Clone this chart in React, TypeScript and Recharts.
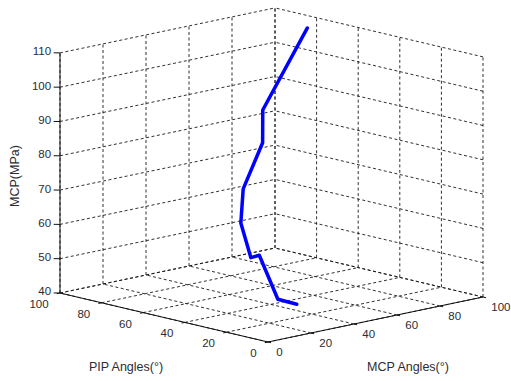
import React from "react";
import { ScatterChart, Scatter, XAxis, YAxis } from "recharts";

// measured series: pressure vs joint angles
const pressure = [46, 47, 58, 57, 65, 74, 86, 95, 110];
const mcpAngle = [25, 22, 24, 23, 28, 32, 42, 44, 87];
const pipAngle = [12, 18, 29, 32, 42, 45, 46, 48, 71];

const angleTicks = [0, 20, 40, 60, 80, 100];
const pressureTicks = [40, 50, 60, 70, 80, 90, 100, 110];

const W = 511;
const H = 381;

// simple oblique projection of the 3D box (MATLAB-like view)
const project = (m: number, p: number, z: number) => ({
  x: 268 + 2.15 * m - 2.08 * p,
  y: 342 - 0.45 * m - 0.49 * p - 3.43 * (z - 40),
});

type Seg = { from: number[]; to: number[] };

const gridSegs: Seg[] = [];
angleTicks.forEach((m) => {
  gridSegs.push({ from: [m, 100, 40], to: [m, 100, 110] }); // back-left wall
  gridSegs.push({ from: [m, 0, 40], to: [m, 100, 40] }); // floor
});
angleTicks.forEach((p) => {
  gridSegs.push({ from: [100, p, 40], to: [100, p, 110] }); // back-right wall
  gridSegs.push({ from: [0, p, 40], to: [100, p, 40] }); // floor
});
pressureTicks.forEach((z) => {
  gridSegs.push({ from: [0, 100, z], to: [100, 100, z] });
  gridSegs.push({ from: [100, 0, z], to: [100, 100, z] });
});

const axisSegs: Seg[] = [
  { from: [0, 100, 40], to: [0, 100, 110] },
  { from: [0, 0, 40], to: [0, 100, 40] },
  { from: [0, 0, 40], to: [100, 0, 40] },
];
pressureTicks.forEach((z) =>
  axisSegs.push({ from: [0, 100, z], to: [-1.5, 101.5, z] })
);
angleTicks.forEach((v) => {
  axisSegs.push({ from: [0, v, 40], to: [-1.5, v, 40] });
  axisSegs.push({ from: [v, 0, 40], to: [v, -1.5, 40] });
});

const segData = (s: Seg) => [
  project(s.from[0], s.from[1], s.from[2]),
  project(s.to[0], s.to[1], s.to[2]),
];

const curveData = pressure.map((z, i) => project(mcpAngle[i], pipAngle[i], z));

const labelData = [
  ...pressureTicks.map((z) => ({
    ...project(-2, 102.2, z + 0.4),
    text: String(z),
    anchor: "end",
  })),
  ...angleTicks.map((p) => ({
    ...project(-5.3, p, 37.5),
    text: String(p),
    anchor: "end",
  })),
  ...angleTicks.map((m) => ({
    ...project(m, -4, 37.8),
    text: String(m),
    anchor: "start",
  })),
];

const titleData = [
  { x: 126, y: 367, text: "PIP Angles(°)", rot: 0 },
  { x: 408, y: 367, text: "MCP Angles(°)", rot: 0 },
  { x: 15, y: 176, text: "MCP(MPa)", rot: -90 },
];

const FONT = "'Liberation Sans', Arial, sans-serif";
const noDot = () => <g />;

export default function App() {
  return (
    <div style={{ position: "absolute", left: 0, top: 0, background: "#fff" }}>
      <ScatterChart
        width={W}
        height={H}
        margin={{ top: 0, right: 0, bottom: 0, left: 0 }}
      >
        <XAxis type="number" dataKey="x" domain={[0, W]} hide />
        <YAxis type="number" dataKey="y" domain={[0, H]} reversed hide />

        {gridSegs.map((s, i) => (
          <Scatter
            key={`g-${i}`}
            data={segData(s)}
            line={{ stroke: "#1a1a1a", strokeWidth: 0.9, strokeDasharray: "3 2.5" }}
            shape={noDot}
            isAnimationActive={false}
          />
        ))}

        {axisSegs.map((s, i) => (
          <Scatter
            key={`a-${i}`}
            data={segData(s)}
            line={{ stroke: "#111", strokeWidth: 1 }}
            shape={noDot}
            isAnimationActive={false}
          />
        ))}

        <Scatter
          data={curveData}
          line={{
            stroke: "#0000ff",
            strokeWidth: 3.5,
            strokeLinejoin: "round",
            strokeLinecap: "round",
          }}
          shape={noDot}
          isAnimationActive={false}
        />

        <Scatter
          data={labelData}
          isAnimationActive={false}
          shape={(props: any) => (
            <text
              x={props.cx}
              y={props.cy}
              textAnchor={props.payload.anchor}
              dominantBaseline="central"
              fontSize={11.5}
              fontFamily={FONT}
              fill="#2b2b33"
            >
              {props.payload.text}
            </text>
          )}
        />

        <Scatter
          data={titleData}
          isAnimationActive={false}
          shape={(props: any) => (
            <text
              x={props.cx}
              y={props.cy}
              textAnchor="middle"
              dominantBaseline="central"
              fontSize={12.5}
              fontFamily={FONT}
              fill="#2b2b33"
              transform={
                props.payload.rot
                  ? `rotate(${props.payload.rot} ${props.cx} ${props.cy})`
                  : undefined
              }
            >
              {props.payload.text}
            </text>
          )}
        />
      </ScatterChart>
    </div>
  );
}
